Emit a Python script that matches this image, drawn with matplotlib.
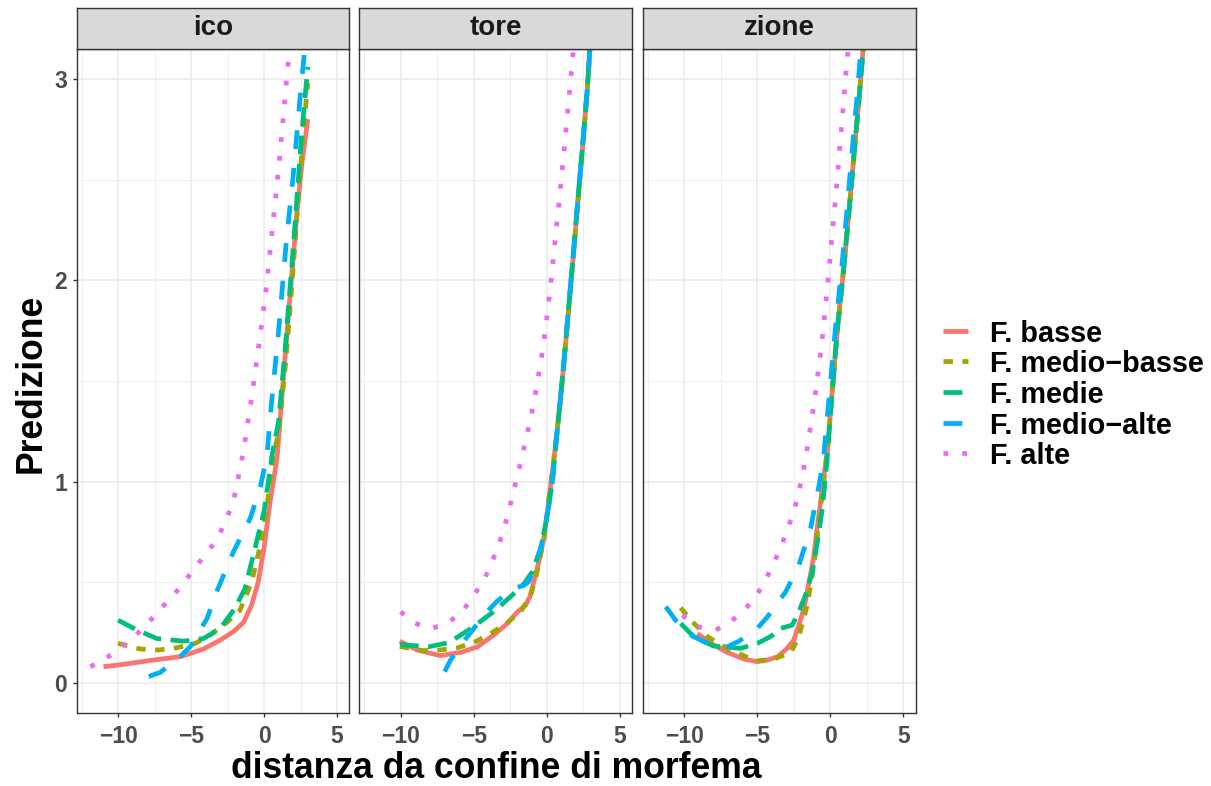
import matplotlib
matplotlib.use("Agg")
import matplotlib.pyplot as plt
from matplotlib.lines import Line2D

plt.rcParams['font.family'] = ['Liberation Sans', 'DejaVu Sans']

# ---- data -----------------------------------------------------------------
panels = ["ico", "tore", "zione"]
series = ["F. basse", "F. medio\u2212basse", "F. medie", "F. medio\u2212alte", "F. alte"]
colors = ["#F8766D", "#A3A500", "#00BF7D", "#00B0F6", "#E76BF3"]

# ico
ico_basse_x = [-11.0, -10.0, -7.6, -5.7, -4.15, -3.0, -2.1, -1.4, -0.85, -0.4, 0.0, 0.4, 0.9, 1.3, 1.8, 2.3, 2.6, 3.0]
ico_basse_y = [0.08, 0.088, 0.113, 0.13, 0.168, 0.212, 0.254, 0.30, 0.386, 0.50, 0.67, 0.89, 1.12, 1.49, 1.94, 2.37, 2.58, 2.80]
ico_mbasse_x = [-10.0, -8.5, -7.2, -6.0, -4.7, -3.7, -2.55, -1.65, -0.85, -0.25, 0.2, 0.55, 1.0, 1.5, 2.0, 2.4, 2.7, 3.0]
ico_mbasse_y = [0.196, 0.168, 0.163, 0.174, 0.196, 0.237, 0.30, 0.36, 0.50, 0.683, 0.87, 1.09, 1.25, 1.60, 2.06, 2.46, 2.74, 2.98]
ico_medie_x = [-10.0, -8.7, -7.35, -5.5, -4.15, -3.0, -2.0, -1.3, -0.85, -0.4, 0.0, 0.3, 0.55, 1.0, 1.45, 2.0, 2.3, 2.55, 3.0]
ico_medie_y = [0.311, 0.262, 0.22, 0.207, 0.22, 0.27, 0.369, 0.469, 0.60, 0.733, 0.85, 1.0, 1.13, 1.30, 1.66, 2.16, 2.45, 2.70, 3.06]
ico_malte_x = [-7.9, -7.1, -5.75, -5.05, -3.9, -3.25, -2.1, -0.95, -0.25, 0.2, 0.5, 1.0, 1.5, 2.0, 2.5, 3.0]
ico_malte_y = [0.031, 0.052, 0.13, 0.18, 0.32, 0.452, 0.65, 0.816, 0.973, 1.13, 1.38, 1.75, 2.17, 2.52, 2.93, 3.3]
ico_alte_x = [-11.9, -10.77, -9.74, -8.78, -7.87, -7.07, -6.2, -5.4, -4.65, -3.87, -3.14, -2.64, -2.13, -1.63,
              -1.4, -0.83, -0.33, 0.15, 0.42, 0.81, 1.11, 1.38, 1.61, 1.75, 2.2]
ico_alte_y = [0.08, 0.125, 0.18, 0.237, 0.303, 0.369, 0.435, 0.507, 0.58, 0.65, 0.721, 0.807, 0.89, 1.067,
              1.154, 1.427, 1.69, 1.96, 2.15, 2.42, 2.64, 2.86, 3.05, 3.14, 3.45]

# tore
tore_basse_x = [-10.07, -8.9, -7.3, -5.9, -4.75, -3.65, -2.7, -2.0, -1.45, -1.15, -0.9, -0.55, -0.2, 0.15,
                0.55, 0.9, 1.2, 1.5, 1.85, 2.15, 2.45, 2.75, 3.0]
tore_basse_y = [0.207, 0.163, 0.135, 0.151, 0.179, 0.237, 0.295, 0.353, 0.386, 0.43, 0.50, 0.60, 0.716, 0.915,
                1.15, 1.38, 1.61, 1.86, 2.15, 2.41, 2.66, 2.92, 3.2]
tore_mbasse_x = [-10.07, -8.5, -7.3, -6.1, -4.9, -3.75, -2.7, -1.8, -1.1, -0.7, -0.2, 0.15,
                 0.55, 0.9, 1.2, 1.5, 1.85, 2.15, 2.45, 2.75, 3.0]
tore_mbasse_y = [0.18, 0.16, 0.163, 0.174, 0.204, 0.249, 0.30, 0.353, 0.435, 0.54, 0.716, 0.915,
                 1.15, 1.38, 1.61, 1.86, 2.15, 2.41, 2.66, 2.92, 3.2]
tore_medie_x = [-10.07, -9.0, -8.1, -6.7, -5.2, -3.65, -2.5, -1.55, -1.0, -0.42, 0.03, 0.38,
                0.6, 0.9, 1.2, 1.5, 1.85, 2.15, 2.45, 2.75, 3.0]
tore_medie_y = [0.19, 0.184, 0.179, 0.20, 0.27, 0.353, 0.427, 0.493, 0.551, 0.667, 0.832, 0.997,
                1.17, 1.39, 1.62, 1.87, 2.16, 2.42, 2.67, 2.93, 3.2]
tore_malte_x = [-7.0, -6.6, -5.55, -4.1, -3.4, -2.25, -1.55, -1.25, -0.75, -0.42, 0.03, 0.38,
                0.6, 0.9, 1.2, 1.5, 1.85, 2.15, 2.45, 2.75, 3.0]
tore_malte_y = [0.055, 0.113, 0.22, 0.353, 0.406, 0.469, 0.485, 0.502, 0.60, 0.667, 0.832, 0.997,
                1.17, 1.39, 1.62, 1.87, 2.16, 2.42, 2.67, 2.93, 3.2]
tore_alte_x = [-10.02, -9.04, -7.85, -6.66, -5.72, -5.0, -4.31, -3.8, -3.35, -2.94, -2.62, -2.32, -2.02, -1.73,
               -1.16, -0.70, -0.29, 0.03, 0.31, 0.56, 0.81, 1.06, 1.29, 1.52, 1.75, 2.0]
tore_alte_y = [0.353, 0.295, 0.27, 0.303, 0.361, 0.435, 0.51, 0.592, 0.675, 0.763, 0.852, 0.94, 1.027, 1.117,
               1.295, 1.47, 1.65, 1.83, 2.01, 2.19, 2.37, 2.55, 2.73, 2.91, 3.09, 3.3]

# zione
zione_basse_x = [-9.1, -8.2, -7.05, -5.9, -5.0, -4.3, -3.6, -2.95, -2.5, -2.15, -1.8, -1.45, -1.15, -0.93,
                 -0.66, -0.45, -0.2, 0.14, 0.49, 0.94, 1.28, 1.62, 1.97, 2.2, 2.5]
zione_basse_y = [0.245, 0.196, 0.151, 0.118, 0.105, 0.113, 0.13, 0.171, 0.212, 0.287, 0.369, 0.502, 0.617, 0.75,
                 0.9, 1.02, 1.15, 1.45, 1.757, 2.071, 2.336, 2.617, 2.898, 3.1, 3.35]
zione_mbasse_x = [-10.25, -9.45, -8.4, -7.05, -5.1, -3.85, -2.7, -2.15, -1.57, -1.12, -0.77, -0.45, -0.2,
                  0.14, 0.49, 0.94, 1.28, 1.62, 1.97, 2.2, 2.5]
zione_mbasse_y = [0.373, 0.303, 0.229, 0.171, 0.108, 0.118, 0.151, 0.229, 0.386, 0.584, 0.80, 1.0, 1.15,
                  1.45, 1.757, 2.071, 2.336, 2.617, 2.898, 3.1, 3.35]
zione_medie_x = [-10.25, -9.35, -8.0, -6.15, -5.0, -4.1, -3.4, -2.6, -2.15, -1.7, -1.23, -0.88, -0.54, -0.25,
                 0.14, 0.49, 0.94, 1.28, 1.62, 1.97, 2.2, 2.5]
zione_medie_y = [0.295, 0.229, 0.183, 0.171, 0.196, 0.229, 0.27, 0.287, 0.353, 0.435, 0.551, 0.70, 0.865, 1.08,
                 1.45, 1.757, 2.071, 2.336, 2.617, 2.898, 3.1, 3.35]
zione_malte_x = [-11.27, -10.6, -9.55, -8.2, -7.05, -6.25, -5.0, -4.3, -3.05, -2.15, -1.35, -0.77, -0.47,
                 0.0, 0.35, 0.8, 1.13, 1.47, 1.82, 2.05, 2.35]
zione_malte_y = [0.378, 0.311, 0.237, 0.187, 0.179, 0.207, 0.27, 0.328, 0.452, 0.584, 0.766, 0.98, 1.113,
                 1.476, 1.757, 2.071, 2.336, 2.617, 2.898, 3.1, 3.35]
zione_alte_x = [-10.13, -9.1, -7.85, -6.82, -5.86, -5.04, -4.42, -3.86, -3.35, -2.94, -2.49, -2.21, -1.91, -1.68,
                -1.12, -0.79, -0.5, -0.25, -0.02, 0.21, 0.44, 0.64, 0.85, 1.05, 1.17, 1.5]
zione_alte_y = [0.336, 0.279, 0.262, 0.303, 0.364, 0.435, 0.513, 0.596, 0.678, 0.763, 0.849, 0.935, 1.025, 1.117,
                1.382, 1.563, 1.741, 1.923, 2.105, 2.287, 2.465, 2.647, 2.827, 3.008, 3.10, 3.4]

curves = {
    "ico": [(ico_basse_x, ico_basse_y), (ico_mbasse_x, ico_mbasse_y), (ico_medie_x, ico_medie_y),
            (ico_malte_x, ico_malte_y), (ico_alte_x, ico_alte_y)],
    "tore": [(tore_basse_x, tore_basse_y), (tore_mbasse_x, tore_mbasse_y), (tore_medie_x, tore_medie_y),
             (tore_malte_x, tore_malte_y), (tore_alte_x, tore_alte_y)],
    "zione": [(zione_basse_x, zione_basse_y), (zione_mbasse_x, zione_mbasse_y), (zione_medie_x, zione_medie_y),
              (zione_malte_x, zione_malte_y), (zione_alte_x, zione_alte_y)],
}

x_ticks = [-10, -5, 0, 5]
y_ticks = [0, 1, 2, 3]

# ---- styling ---------------------------------------------------------------
LW = 3.4
line_styles = ["-", (0, (2, 2)), (0, (4, 2)), (0, (4, 4)), (0, (1, 3))]
BORDER = "#333333"
GRID = "#EBEBEB"

W, H = 1211, 786
fig = plt.figure(figsize=(W / 100, H / 100), dpi=100)


def fx(px):
    return px / W


def fy(py):
    return 1 - py / H


panel_left = [76.5, 359.3, 642.7]
panel_w = 272.9
panel_top, panel_bottom, strip_top = 48.7, 713.0, 8.0

for i, name in enumerate(panels):
    ax = fig.add_axes([fx(panel_left[i]), fy(panel_bottom), panel_w / W, (panel_bottom - panel_top) / H])
    ax.set_xlim(-12.85, 5.85)
    ax.set_ylim(-0.15, 3.15)
    ax.set_xticks(x_ticks)
    ax.set_xticks([-12.5, -7.5, -2.5, 2.5], minor=True)
    ax.set_yticks(y_ticks)
    ax.set_yticks([0.5, 1.5, 2.5], minor=True)
    ax.set_axisbelow(True)
    ax.grid(which="major", color=GRID, lw=1.1)
    ax.grid(which="minor", color=GRID, lw=0.55)
    for sp in ax.spines.values():
        sp.set_color(BORDER)
        sp.set_linewidth(1.0)
    ax.tick_params(which="minor", length=0)
    ax.tick_params(which="major", length=3.2, width=1.0, color=BORDER, labelsize=16.5,
                   labelcolor="#4D4D4D")
    ax.tick_params(axis="x", pad=5.5)
    ax.tick_params(axis="y", pad=3.5)
    for lab in ax.get_xticklabels() + ax.get_yticklabels():
        lab.set_fontweight("bold")
    if i > 0:
        ax.tick_params(axis="y", left=False, labelleft=False)

    for (xs, ys), col, ls in zip(curves[name], colors, line_styles):
        ax.plot(xs, ys, color=col, lw=LW, linestyle=ls,
                solid_capstyle="butt", dash_capstyle="butt", solid_joinstyle="round")

    # facet strip
    sax = fig.add_axes([fx(panel_left[i]), fy(panel_top), panel_w / W, (panel_top - strip_top) / H])
    sax.set_facecolor("#D9D9D9")
    sax.set_xticks([])
    sax.set_yticks([])
    for sp in sax.spines.values():
        sp.set_color(BORDER)
        sp.set_linewidth(1.0)
    sax.text(0.5, 0.5, name, transform=sax.transAxes, ha="center", va="center",
             fontsize=20, fontweight="bold", color="#1A1A1A")

# axis titles
fig.text(fx(496), fy(778.5), "distanza da confine di morfema", ha="center", va="baseline",
         fontsize=25.6, fontweight="bold")
fig.text(fx(31), fy(383), "Predizione", ha="center", va="center", rotation=90,
         fontsize=25.6, fontweight="bold")

# legend
row_y = [330.7, 361.3, 392.0, 422.6, 453.3]
for lab, col, ls, ry in zip(series, colors, line_styles, row_y):
    fig.add_artist(Line2D([fx(943), fx(968)], [fy(ry), fy(ry)], transform=fig.transFigure,
                          color=col, lw=LW, linestyle=ls, solid_capstyle="butt", dash_capstyle="butt"))
    fig.text(fx(990), fy(ry), lab, ha="left", va="center_baseline", fontsize=20.8, fontweight="bold")

fig.savefig("out.png", dpi=100)
